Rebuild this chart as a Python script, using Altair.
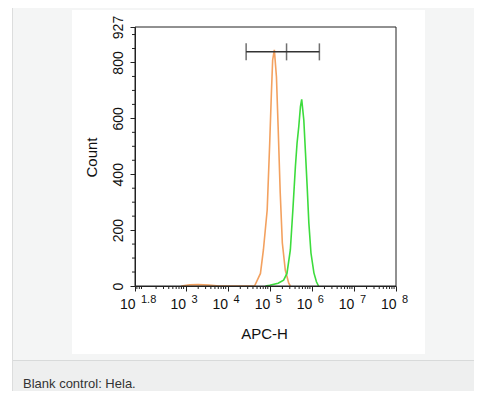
import altair as alt
import pandas as pd
import numpy as np

# ---------------- data ----------------
# histogram traces: log10(APC-H) positions and counts
control_log = [2.9, 3.1, 3.3, 3.55, 3.8, 4.64, 4.78, 4.85, 4.94, 5.0, 5.04, 5.07,
               5.11, 5.16, 5.20, 5.25, 5.30, 5.37, 5.45, 5.49]
control_cnt = [0, 4, 5, 3, 0, 0, 45, 129, 272, 512, 690, 809,
               845, 749, 570, 333, 154, 57, 11, 0]
stained_log = [4.9, 5.0, 5.2, 5.33, 5.41, 5.49, 5.55, 5.61, 5.65, 5.69, 5.73,
               5.76, 5.81, 5.85, 5.89, 5.93, 5.98, 6.05, 6.11, 6.16]
stained_cnt = [0, 3, 10, 21, 45, 129, 272, 427, 512, 570, 642,
               668, 594, 476, 355, 225, 118, 47, 15, 0]

# gate marker
gate_log = [4.44, 5.40, 6.18]
gate_count = 838

# axes
x_exponents = [1.8, 3, 4, 5, 6, 7, 8]
x_exp_labels = ["1.8", "3", "4", "5", "6", "7", "8"]
y_ticks = [0, 200, 400, 600, 800, 927]
y_minor = [50, 100, 150, 250, 300, 350, 450, 500, 550, 650, 700, 750, 850, 900]
caption = "Blank control: Hela."

# ---------------- tables ----------------
W, H = 261, 259
FONT = "Liberation Sans"

curves = pd.concat([
    pd.DataFrame({"apc": [10 ** v for v in control_log], "count": control_cnt, "s": "control"}),
    pd.DataFrame({"apc": [10 ** v for v in stained_log], "count": stained_cnt, "s": "stained"}),
])
gate_df = pd.DataFrame({"apc": [10 ** v for v in gate_log], "count": gate_count})
gate_line = pd.DataFrame({"apc": [10 ** gate_log[0]], "apc2": [10 ** gate_log[-1]], "count": [gate_count]})
xmin = 10 ** 1.8
minor_x = [k * 10 ** d for d in range(1, 8) for k in range(2, 10) if k * 10 ** d > xmin]
minor_x_df = pd.DataFrame({"apc": minor_x, "count": 0})
minor_y_df = pd.DataFrame({"count": y_minor, "apc": xmin})
exp_df = pd.DataFrame({"apc": [10 ** v for v in x_exponents], "lab": x_exp_labels})
dummy = pd.DataFrame({"a": [0]})

xs = alt.Scale(type="log", domain=[xmin, 1e8], nice=False)
ys = alt.Scale(domain=[0, 927], nice=False, zero=True)

x_axis = alt.Axis(
    values=[10 ** v for v in x_exponents], labelExpr="'10'", labelAlign="right",
    labelBaseline="alphabetic", labelPadding=17, labelFontSize=14, labelFont=FONT,
    labelColor="#111", labelFlush=False, labelOverlap=False, tickSize=5,
    tickColor="#222", domainColor="#222", grid=False, zindex=1,
    title="APC-H", titleFont=FONT, titleFontSize=15, titleFontWeight="normal",
    titleColor="#111", titleX=129, titleY=52, titleAlign="center",
    titleBaseline="alphabetic", titleAngle=0,
)
y_axis = alt.Axis(
    values=y_ticks, labelAngle=270, labelAlign="center", labelBaseline="alphabetic",
    labelPadding=8, labelFontSize=14, labelFont=FONT, labelColor="#111",
    labelFlush=False, labelOverlap=False, tickSize=5, tickColor="#222",
    domainColor="#222", grid=False, zindex=1,
    title="Count", titleFont=FONT, titleFontSize=15, titleFontWeight="normal",
    titleColor="#111", titleX=-39, titleY=130, titleAlign="center",
    titleBaseline="alphabetic", titleAngle=270,
)

X = lambda f="apc:Q": alt.X(f, scale=xs, axis=x_axis)
Y = lambda f="count:Q": alt.Y(f, scale=ys, axis=y_axis)

# ---------------- decorations (page frame) ----------------
def box(x1, x2, y1, y2, color):
    return alt.Chart(dummy).mark_rect(color=color).encode(
        x=alt.value(x1), x2=alt.value(x2), y=alt.value(y1), y2=alt.value(y2))

white_strip = box(-127, -123, -19, 364, "#ffffff")
border = box(-123, -122, -19, 364, "#dcdddd")
image_bg = box(-63, 290, -17, 327, "#ffffff")
band = box(-122, 339, 333, 364, "#eeefef")
sep = box(-122, 339, 333, 334, "#d8dada")
cap = alt.Chart(dummy).mark_text(
    text=caption, align="left", baseline="alphabetic", fontSize=13, font=FONT, color="#333333"
).encode(x=alt.value(-112), y=alt.value(361))

# ---------------- plot ----------------
lines = alt.Chart(curves).mark_line(strokeWidth=1.6).encode(
    x=X(), y=Y(),
    color=alt.Color("s:N", scale=alt.Scale(domain=["control", "stained"],
                                           range=["#f3a15f", "#3ddc3d"]), legend=None),
    detail="s:N",
)
minor_xt = alt.Chart(minor_x_df).mark_rule(color="#222", strokeWidth=1).encode(
    x=X(), y=alt.value(H), y2=alt.value(H + 3))
minor_yt = alt.Chart(minor_y_df).mark_rule(color="#222", strokeWidth=1).encode(
    y=Y(), x=alt.value(-3), x2=alt.value(0))

gate_h = alt.Chart(gate_line).mark_rule(color="#333", strokeWidth=1.5).encode(
    x=X(), x2="apc2:Q", y=Y())
gate_t = alt.Chart(gate_df).mark_tick(color="#333", thickness=1.5, size=17, orient="vertical").encode(
    x=X(), y=Y())

exps = alt.Chart(exp_df).mark_text(
    align="left", baseline="alphabetic", fontSize=11, font=FONT, color="#111", dx=6, dy=17
).encode(x=X(), y=alt.value(H), text="lab:N")

frame = alt.Chart(dummy).mark_rect(fillOpacity=0, stroke="#222", strokeWidth=1).encode(
    x=alt.value(0), x2=alt.value(W), y=alt.value(0), y2=alt.value(H))

chart = alt.layer(
    white_strip, border, image_bg, band, sep, cap,
    lines, minor_xt, minor_yt, gate_h, gate_t, exps, frame,
).properties(
    width=W, height=H,
    autosize=alt.AutoSizeParams(type="none"),
    padding={"left": 127, "top": 19, "right": 78, "bottom": 105},
    background="#f4f5f5",
).configure_view(stroke=None)

chart.save("out.html", embed_options={"renderer": "svg", "actions": False})
